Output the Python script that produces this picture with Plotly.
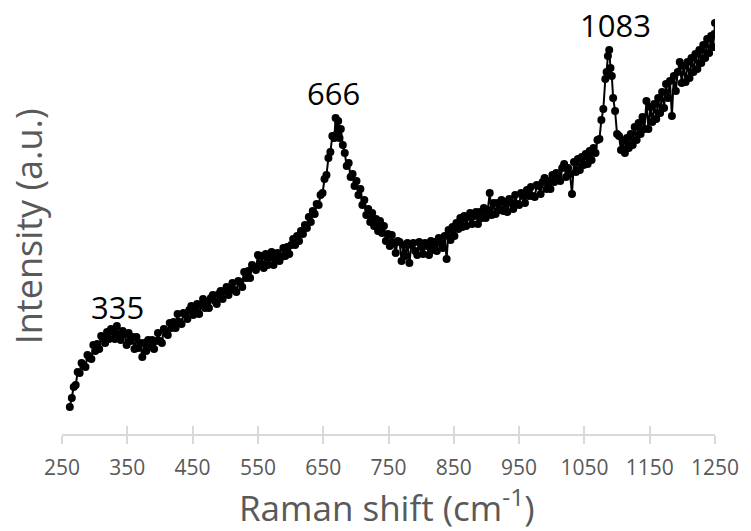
import plotly.graph_objects as go

# Raman shift (cm-1)
shift = [
    262, 265, 268, 271, 274, 277, 280, 283, 286, 289, 292, 295, 298, 301, 304, 307, 310, 313, 316, 319,
    322, 325, 328, 331, 334, 337, 340, 343, 346, 349, 352, 355, 358, 361, 364, 367, 370, 373, 376, 379,
    382, 385, 388, 391, 394, 397, 400, 403, 406, 409, 412, 415, 418, 421, 424, 427, 430, 433, 436, 439,
    442, 445, 448, 451, 454, 457, 460, 463, 466, 469, 472, 475, 478, 481, 484, 487, 490, 493, 496, 499,
    502, 505, 508, 511, 514, 517, 520, 523, 526, 529, 532, 535, 538, 541, 544, 547, 550, 553, 556, 559,
    562, 565, 568, 571, 574, 577, 580, 583, 586, 589, 592, 595, 598, 601, 604, 607, 610, 613, 616, 619,
    622, 625, 628, 631, 634, 637, 640, 643, 646, 649, 652, 655, 658, 661, 664,
    667, 669, 671, 673, 675, 677, 680,
    683, 686, 689, 692, 695, 698, 701, 704, 707, 710, 713, 716, 719, 722, 725, 728, 731, 734, 737, 740,
    743, 746, 749, 752, 755, 758, 761, 764, 767, 770, 773, 776, 779, 782, 785, 788, 791, 794, 797, 800,
    803, 806, 809, 812, 815, 818, 821, 824, 827, 830, 833, 836, 839, 842, 845, 848, 851, 854, 857, 860,
    863, 866, 869, 872, 875, 878, 881, 884, 887, 890, 893, 896, 899, 902, 905, 908, 911, 914, 917, 920,
    923, 926, 929, 932, 935, 938, 941, 944, 947, 950, 953, 956, 959, 962, 965, 968, 971, 974, 977, 980,
    983, 986, 989, 992, 995, 998, 1001, 1004, 1007, 1010, 1013, 1016, 1019, 1022, 1025, 1028, 1031, 1034, 1037, 1040,
    1043, 1046, 1049, 1052, 1055, 1058, 1061, 1064, 1067, 1070, 1073, 1076, 1079, 1082,
    1084, 1086, 1088, 1090, 1092, 1094, 1097, 1100,
    1103, 1106, 1109, 1112, 1115, 1118, 1121, 1124, 1127, 1130, 1133, 1136, 1139, 1142, 1145, 1148, 1151, 1154, 1157, 1160,
    1163, 1166, 1169, 1172, 1175, 1178, 1181, 1184, 1187, 1190, 1193, 1196, 1199, 1202, 1205, 1208, 1211, 1214, 1217, 1220,
    1223, 1226, 1229, 1232, 1235, 1238, 1241, 1244, 1247,
    1249, 1250,
]

# Intensity (a.u.)
intensity = [
    27, 36, 47, 49, 62, 61, 71, 68, 67, 79, 76, 75, 89, 83, 90, 85, 98, 96, 91, 102,
    95, 105, 102, 95, 108, 99, 94, 103, 100, 89, 101, 93, 97, 85, 97, 86, 91, 77, 91, 83,
    94, 87, 94, 85, 93, 101, 93, 91, 105, 103, 99, 111, 106, 112, 106, 120, 112, 110, 121, 120,
    115, 124, 128, 119, 124, 130, 120, 129, 135, 126, 131, 126, 136, 139, 133, 130, 140, 143, 135, 143,
    147, 139, 145, 151, 144, 142, 153, 152, 147, 162, 156, 163, 156, 169, 167, 164, 179, 168, 178, 166,
    180, 169, 176, 182, 169, 176, 181, 173, 177, 186, 178, 187, 180, 189, 195, 189, 198, 193, 203, 200,
    209, 206, 217, 212, 223, 220, 230, 229, 239, 241, 255, 259, 276, 282, 298,
    296, 316, 300, 313, 296, 305, 289,
    281, 268, 271, 257, 260, 248, 253, 239, 245, 229, 234, 219, 225, 212, 221, 208, 215, 203, 213, 201,
    208, 193, 200, 188, 199, 191, 181, 193, 192, 173, 189, 178, 191, 171, 189, 191, 183, 179, 192, 187,
    180, 191, 188, 179, 193, 184, 192, 183, 196, 191, 186, 198, 175, 204, 194, 207, 198, 211, 205, 216,
    207, 218, 208, 217, 221, 210, 218, 222, 210, 222, 216, 226, 216, 224, 241, 219, 231, 220, 231, 224,
    234, 223, 232, 222, 235, 231, 225, 239, 230, 229, 241, 238, 231, 244, 238, 247, 238, 237, 249, 248,
    240, 252, 256, 245, 253, 245, 259, 252, 261, 259, 253, 266, 270, 257, 266, 260, 240, 272, 262, 275,
    264, 277, 269, 280, 270, 283, 274, 286, 281, 294, 295, 314, 325, 355,
    362, 378, 384, 366, 358, 336, 323, 300,
    298, 284, 293, 281, 296, 286, 300, 289, 307, 294, 311, 300, 317, 305, 333, 305, 327, 312, 330, 315,
    336, 321, 342, 326, 350, 336, 353, 318, 358, 343, 362, 372, 351, 368, 352, 372, 356, 376, 362, 380,
    365, 384, 371, 389, 376, 395, 381, 398, 387,
    400, 411,
]
assert len(shift) == len(intensity), (len(shift), len(intensity))

x_ticks = [250, 350, 450, 550, 650, 750, 850, 950, 1050, 1150, 1250]

peak_labels = ["335", "666", "1083"]
peak_x = [335, 666, 1083]
peak_y = [127, 341, 409]
peak_xshift = [0, 0, 10]

AXIS_GRAY = "#d9d9d9"
TEXT_GRAY = "#595959"
FONT = "Open Sans"

fig = go.Figure()
fig.add_trace(go.Scatter(
    x=shift, y=intensity, mode="lines+markers",
    line=dict(color="black", width=2),
    marker=dict(color="black", size=8),
    showlegend=False, hoverinfo="skip",
))
# helper trace so the overlaid axis (upper half of the cross ticks) is drawn
fig.add_trace(go.Scatter(x=[None], y=[None], xaxis="x2", showlegend=False, hoverinfo="skip"))

for t, xv, yv, xs in zip(peak_labels, peak_x, peak_y, peak_xshift):
    fig.add_annotation(x=xv, y=yv, xref="x", yref="y", text=t, showarrow=False,
                       xshift=xs, yanchor="middle", xanchor="center",
                       font=dict(family=FONT, size=31, color="black"))

fig.add_annotation(x=0.498, y=-0.1675, xref="paper", yref="paper", text="Raman shift (cm<sup>-1</sup>)",
                   showarrow=False, xanchor="center", yanchor="middle",
                   font=dict(family=FONT, size=35, color=TEXT_GRAY))
fig.add_annotation(x=-0.052, y=0.49, xref="paper", yref="paper", text="Intensity (a.u.)",
                   showarrow=False, textangle=-90, xanchor="center", yanchor="middle",
                   font=dict(family=FONT, size=36, color=TEXT_GRAY))

fig.update_layout(
    width=751, height=531,
    margin=dict(l=62, r=36, t=10, b=97),
    plot_bgcolor="white", paper_bgcolor="white",
    xaxis=dict(range=[250, 1250], tickvals=x_ticks, ticktext=[str(v) for v in x_ticks],
               showgrid=False, zeroline=False, showline=True, linecolor=AXIS_GRAY, linewidth=2,
               ticks="outside", ticklen=8, tickwidth=2, tickcolor=AXIS_GRAY,
               ticklabelstandoff=6,
               tickfont=dict(family=FONT, size=21, color=TEXT_GRAY)),
    xaxis2=dict(range=[250, 1250], overlaying="x", anchor="y", side="bottom", tickvals=x_ticks,
                showticklabels=False, showgrid=False, zeroline=False, showline=False,
                ticks="inside", ticklen=8, tickwidth=2, tickcolor=AXIS_GRAY),
    yaxis=dict(range=[0, 424], showticklabels=False, showgrid=False, zeroline=False, showline=False,
               ticks=""),
)

fig.write_html("out.html")
